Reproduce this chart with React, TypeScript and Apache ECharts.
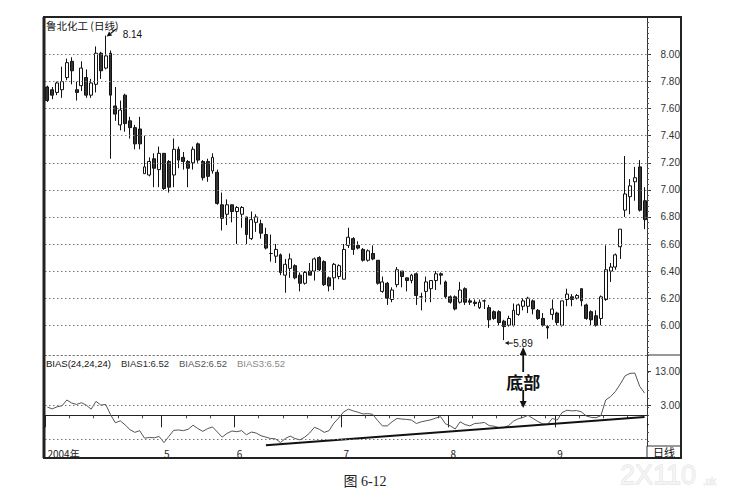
import React, { useEffect, useRef } from "react";
import * as echarts from "echarts";

// ---- data ----
const monthLabels = ["2004年", "5", "6", "7", "8", "9"];
const monthCounts = [24, 15, 22, 22, 22, 19];

const opens = [
  7.76, 7.74, 7.72, 7.74, 7.83, 7.95, 7.74, 7.77, 7.83, 7.70,
  7.78, 8.01, 7.90, 8.01, 7.62, 7.48, 7.70, 7.51, 7.46, 7.45,
  7.12, 7.11, 7.23, 7.15, 7.27, 7.21, 7.11, 7.30, 7.24, 7.21,
  7.20, 7.34, 7.21, 7.21, 7.14, 7.13, 6.89, 6.82, 6.89, 6.84,
  6.82, 6.80, 6.64, 6.76, 6.75, 6.67, 6.53, 6.51, 6.52, 6.37,
  6.42, 6.44, 6.37, 6.31, 6.40, 6.40, 6.50, 6.47, 6.35, 6.35,
  6.36, 6.34, 6.59, 6.64, 6.59, 6.56, 6.48, 6.53, 6.48, 6.25,
  6.31, 6.19, 6.30, 6.40, 6.35, 6.33, 6.38, 6.21, 6.25, 6.27,
  6.33, 6.38, 6.32, 6.21, 6.21, 6.17, 6.27, 6.18, 6.17, 6.13,
  6.18, 6.13, 6.10, 6.10, 6.03, 6.00, 6.00, 6.08, 6.14, 6.14,
  6.18, 6.11, 6.05, 5.99, 6.08, 6.09, 6.00, 6.19, 6.21, 6.20,
  6.27, 6.15, 6.10, 6.07, 6.05, 6.19, 6.40, 6.43, 6.58, 6.85,
  6.95, 7.06, 7.17, 6.92,
];
const closes = [
  7.66, 7.70, 7.79, 7.80, 7.94, 7.88, 7.72, 7.90, 7.70, 7.79,
  8.01, 7.88, 7.99, 7.70, 7.56, 7.59, 7.49, 7.46, 7.34, 7.34,
  7.17, 7.21, 7.16, 7.27, 7.01, 7.02, 7.30, 7.22, 7.21, 7.16,
  7.30, 7.22, 7.09, 7.10, 7.24, 6.90, 6.79, 6.89, 6.84, 6.87,
  6.87, 6.67, 6.78, 6.80, 6.68, 6.57, 6.53, 6.56, 6.39, 6.45,
  6.49, 6.35, 6.31, 6.39, 6.37, 6.49, 6.41, 6.30, 6.29, 6.45,
  6.44, 6.56, 6.65, 6.56, 6.57, 6.48, 6.55, 6.49, 6.31, 6.32,
  6.20, 6.26, 6.41, 6.36, 6.33, 6.37, 6.22, 6.21, 6.32, 6.33,
  6.38, 6.37, 6.21, 6.17, 6.12, 6.26, 6.17, 6.17, 6.16, 6.17,
  6.18, 6.04, 6.05, 6.02, 5.99, 6.05, 6.11, 6.15, 6.18, 6.20,
  6.12, 6.05, 6.00, 5.98, 6.12, 6.02, 6.18, 6.23, 6.19, 6.22,
  6.18, 6.05, 6.04, 6.00, 6.21, 6.41, 6.43, 6.52, 6.71, 6.97,
  7.03, 7.09, 6.85, 6.78,
];
const lows = [
  7.65, 7.67, 7.70, 7.68, 7.81, 7.78, 7.66, 7.73, 7.68, 7.68,
  7.72, 7.82, 7.89, 7.23, 7.51, 7.44, 7.43, 7.38, 7.30, 7.30,
  7.12, 7.10, 7.02, 7.02, 7.00, 6.98, 7.02, 7.16, 7.15, 7.02,
  7.15, 7.20, 7.07, 7.06, 7.12, 6.89, 6.70, 6.74, 6.76, 6.60,
  6.72, 6.60, 6.63, 6.69, 6.64, 6.56, 6.47, 6.46, 6.37, 6.24,
  6.35, 6.34, 6.25, 6.30, 6.37, 6.33, 6.40, 6.29, 6.25, 6.26,
  6.34, 6.34, 6.57, 6.52, 6.56, 6.47, 6.47, 6.48, 6.30, 6.24,
  6.15, 6.17, 6.28, 6.28, 6.25, 6.31, 6.15, 6.11, 6.17, 6.17,
  6.26, 6.30, 6.20, 6.16, 6.11, 6.16, 6.15, 6.15, 6.14, 6.12,
  6.12, 5.98, 6.04, 6.00, 5.89, 5.99, 5.99, 6.07, 6.11, 6.09,
  6.08, 6.04, 5.99, 5.90, 6.04, 6.00, 5.99, 6.14, 6.14, 6.19,
  6.14, 6.04, 6.00, 5.99, 6.00, 6.18, 6.32, 6.41, 6.49, 6.80,
  6.82, 6.92, 6.84, 6.71,
];
const highs = [
  7.77, 7.76, 7.80, 7.91, 7.97, 7.98, 7.80, 7.95, 7.89, 7.82,
  8.06, 8.02, 8.14, 8.03, 7.76, 7.66, 7.71, 7.54, 7.48, 7.54,
  7.40, 7.24, 7.27, 7.32, 7.27, 7.22, 7.38, 7.32, 7.28, 7.22,
  7.32, 7.35, 7.22, 7.23, 7.27, 7.15, 6.98, 6.93, 6.89, 6.88,
  6.88, 6.80, 6.84, 6.82, 6.78, 6.72, 6.67, 6.60, 6.53, 6.49,
  6.53, 6.45, 6.39, 6.40, 6.46, 6.50, 6.51, 6.48, 6.36, 6.46,
  6.45, 6.60, 6.72, 6.65, 6.62, 6.57, 6.56, 6.59, 6.48, 6.36,
  6.32, 6.28, 6.43, 6.40, 6.35, 6.38, 6.39, 6.24, 6.36, 6.33,
  6.40, 6.39, 6.33, 6.22, 6.22, 6.32, 6.28, 6.20, 6.19, 6.19,
  6.19, 6.15, 6.11, 6.11, 6.04, 6.07, 6.16, 6.16, 6.20, 6.21,
  6.19, 6.12, 6.09, 6.00, 6.19, 6.10, 6.18, 6.27, 6.23, 6.23,
  6.27, 6.16, 6.11, 6.11, 6.22, 6.59, 6.46, 6.53, 6.71, 7.25,
  7.08, 7.17, 7.22, 7.02,
];
const bias = [
  2.4, 1.9, 2.5, 2.8, 4.5, 3.6, 3.2, 3.7, 3.0, 1.8,
  4.1, 3.0, 3.2, 0.2, -2.2, -1.6, -2.8, -4.2, -5.0, -4.5,
  -6.7, -6.5, -6.6, -6.2, -8.0, -6.2, -4.4, -4.3, -4.5, -4.1,
  -2.9, -3.9, -4.7, -3.9, -3.4, -4.9, -6.4, -5.3, -4.6, -4.8,
  -4.5, -5.7, -4.9, -5.2, -6.0, -6.4, -6.8, -6.9, -8.0, -6.8,
  -6.1, -6.8, -7.2, -6.4, -5.2, -3.5, -4.1, -5.0, -4.5, -2.3,
  -0.8, 1.0, 1.8, 1.3, 0.9, 0.4, 0.5, 0.3, -1.5, -3.1,
  -3.1, -1.9, -0.9, -1.1, -1.2, -1.4, -2.4, -1.9, -1.6, -1.3,
  -0.8, -0.4, -2.5, -3.1, -4.0, -1.9, -2.7, -3.1, -2.4, -2.3,
  -2.1, -3.0, -3.2, -3.6, -3.6, -3.0, -1.7, -1.0, -0.6, 0.0,
  -0.9, -1.8, -2.5, -2.7, -0.9, -1.4, 0.8, 1.5, 1.3, 1.4,
  1.0, -0.2, -0.6, -0.7, -0.1, 4.5, 5.5, 7.0, 9.2, 11.6,
  12.3, 12.4, 8.5, 6.52,
];
// support trend line drawn under the BIAS curve: [candle index, BIAS value]
const biasTrend = [
  [45, -8.75],
  [123, -0.5],
];

const priceTicks = [6.0, 6.2, 6.4, 6.6, 6.8, 7.0, 7.2, 7.4, 7.6, 7.8, 8.0];
const priceMinorTicks = Array.from({ length: 62 }, (_, k) => +(5.8 + k * 0.04).toFixed(2));
const biasLabelTicks = [3, 13];
const biasGridLines = [-7, 3];
const biasMinorTicks = [-7.5, -5, -2.5, 0, 2.5, 5, 7.5, 10, 12.5, 15, 17.5];

const highNote = { index: 12, value: 8.14, text: "8.14" };
const lowNote = { index: 94, value: 5.89, text: "5.89" };
const bottomNote = { index: 98, text: "底部" };
const biasLegend = ["BIAS(24,24,24)", "BIAS1:6.52", "BIAS2:6.52", "BIAS3:6.52"];

// ---- derived ----
const monthStarts: number[] = [];
const categories: string[] = [];
const weekTicks: number[] = [];
monthCounts.forEach((n, m) => {
  monthStarts.push(categories.length);
  for (let k = 0; k < n; k++) {
    if (k > 0 && k % 5 === 0) weekTicks.push(categories.length);
    categories.push(`${monthLabels[m]}-${k + 1}`);
  }
});
const candleData = opens.map((o, i) => [o, closes[i], lows[i], highs[i]]);

const dotted = { color: "#777", type: [1.5, 2.5] as any, width: 1 };
const SANS = '"Liberation Sans", Arial, sans-serif';
const CJK = '"Noto Sans CJK SC", "Liberation Sans", sans-serif';

function arrow(x1: number, y1: number, x2: number, y2: number, len = 6, half = 3, w = 1.4, color = "#111") {
  const dx = x2 - x1, dy = y2 - y1;
  const L = Math.hypot(dx, dy) || 1;
  const ux = dx / L, uy = dy / L;
  const bx = x2 - ux * len, by = y2 - uy * len;
  return [
    { type: "line", z: 20, shape: { x1, y1, x2: bx, y2: by }, style: { stroke: color, lineWidth: w } },
    {
      type: "polygon", z: 20,
      shape: { points: [[x2, y2], [bx - uy * half, by + ux * half], [bx + uy * half, by - ux * half]] },
      style: { fill: color },
    },
  ];
}

export default function App() {
  const ref = useRef<HTMLDivElement>(null);
  useEffect(() => {
    if (!ref.current) return;
    const chart = echarts.init(ref.current, null, { renderer: "svg" });
    const option: any = {
      animation: false,
      backgroundColor: "#ffffff",
      textStyle: { fontFamily: SANS },
      grid: [
        { left: 45, top: 18, width: 602, height: 337 },
        { left: 45, top: 355, width: 602, height: 91 },
      ],
      xAxis: [
        {
          type: "category", gridIndex: 0, data: categories, position: "bottom",
          axisLine: { show: true, lineStyle: dotted },
          axisTick: { show: false }, axisLabel: { show: false }, splitLine: { show: false },
        },
        {
          type: "category", gridIndex: 1, data: categories, position: "bottom",
          axisLine: { show: true, lineStyle: { color: "#222", width: 1 } },
          axisTick: {
            show: true, interval: (i: number) => monthStarts.includes(i), length: 12,
            lineStyle: { color: "#222" },
          },
          axisLabel: {
            show: true, interval: (i: number) => monthStarts.includes(i),
            formatter: (_v: string, i: number) => monthLabels[monthStarts.indexOf(i)] ?? "",
            align: "left", margin: 2, color: "#222", fontSize: 10, fontFamily: CJK,
          },
          splitLine: { show: false },
        },
        {
          type: "category", gridIndex: 1, data: categories, position: "bottom",
          axisLine: { show: false },
          axisTick: { show: true, interval: (i: number) => weekTicks.includes(i), length: 3, lineStyle: { color: "#444" } },
          axisLabel: { show: false }, splitLine: { show: false },
        },
      ],
      yAxis: [
        {
          type: "value", gridIndex: 0, position: "right", min: 5.78, max: 8.27,
          axisLine: { show: true, lineStyle: { color: "#333" } },
          axisTick: { show: true, customValues: priceTicks, length: 4, lineStyle: { color: "#333" } },
          axisLabel: {
            customValues: priceTicks, formatter: (v: number) => v.toFixed(2),
            align: "right", margin: 33, color: "#333", fontSize: 10,
          },
          splitLine: { show: false },
        },
        {
          type: "value", gridIndex: 0, position: "right", min: 5.78, max: 8.27,
          axisLine: { show: false },
          axisTick: { show: true, customValues: priceMinorTicks, length: 2, lineStyle: { color: "#555" } },
          axisLabel: { show: false }, splitLine: { show: false },
        },
        {
          type: "value", gridIndex: 1, position: "right", min: -9, max: 17.7,
          axisLine: { show: true, lineStyle: { color: "#333" } },
          axisTick: { show: true, customValues: biasLabelTicks, length: 4, lineStyle: { color: "#333" } },
          axisLabel: {
            customValues: biasLabelTicks, formatter: (v: number) => v.toFixed(2),
            align: "right", margin: 33, color: "#333", fontSize: 10,
          },
          splitLine: { show: false },
        },
        {
          type: "value", gridIndex: 1, position: "right", min: -9, max: 17.7,
          axisLine: { show: false },
          axisTick: { show: true, customValues: biasMinorTicks, length: 2, lineStyle: { color: "#555" } },
          axisLabel: { show: false }, splitLine: { show: false },
        },
      ],
      series: [
        {
          type: "candlestick", xAxisIndex: 0, yAxisIndex: 0, data: candleData, barWidth: 3.4,
          itemStyle: { color: "#ffffff", color0: "#333333", borderColor: "#111111", borderColor0: "#111111", borderWidth: 1 },
          markLine: {
            silent: true, symbol: ["none", "none"], label: { show: false }, lineStyle: dotted,
            data: priceTicks.map((v) => ({ yAxis: v })),
          },
        },
        {
          type: "line", xAxisIndex: 1, yAxisIndex: 2, data: bias, showSymbol: false,
          lineStyle: { color: "#555", width: 1 },
          markLine: {
            silent: true, symbol: ["none", "none"], label: { show: false }, lineStyle: dotted,
            data: biasGridLines.map((v) => ({ yAxis: v })),
          },
        },
        {
          type: "line", xAxisIndex: 1, yAxisIndex: 2, data: biasTrend, showSymbol: false,
          lineStyle: { color: "#111", width: 2 },
        },
      ],
    };
    chart.setOption(option);

    const hp = chart.convertToPixel({ xAxisIndex: 0, yAxisIndex: 0 }, [highNote.index, highNote.value]) as number[];
    const lp = chart.convertToPixel({ xAxisIndex: 0, yAxisIndex: 0 }, [lowNote.index, lowNote.value]) as number[];
    const bp = chart.convertToPixel({ xAxisIndex: 0, yAxisIndex: 0 }, [bottomNote.index, 6]) as number[];
    const bx = bp[0];

    const legendColors = ["#111", "#2a2a2a", "#555", "#888"];
    const legendX = [46, 121, 179, 237];

    const graphic: any[] = [
      {
        type: "rect", z: 30, shape: { x: 44, y: 17, width: 637, height: 441 },
        style: { fill: "none", stroke: "#222", lineWidth: 2 },
      },
      { type: "line", z: 30, shape: { x1: 44, y1: 17, x2: 44, y2: 458 }, style: { stroke: "#222", lineWidth: 3 } },
      { type: "line", z: 25, shape: { x1: 647, y1: 355, x2: 681, y2: 355 }, style: { stroke: "#333", lineWidth: 1 } },
      { type: "line", z: 25, shape: { x1: 647, y1: 446, x2: 681, y2: 446 }, style: { stroke: "#333", lineWidth: 1 } },
      { type: "line", z: 25, shape: { x1: 647, y1: 446, x2: 647, y2: 458 }, style: { stroke: "#333", lineWidth: 1 } },
      {
        type: "text", z: 25, x: 46, y: 25,
        style: { text: "鲁北化工 (日线)", fill: "#111", font: `10.5px ${CJK}`, verticalAlign: "middle" },
      },
      ...biasLegend.map((t, i) => ({
        type: "text", z: 25, x: legendX[i], y: 363,
        style: { text: t, fill: legendColors[i], font: `9.5px ${SANS}`, verticalAlign: "middle" },
      })),
      {
        type: "text", z: 25, x: 664, y: 452,
        style: { text: "日线", fill: "#111", font: `11px ${CJK}`, align: "center", verticalAlign: "middle" },
      },
      // 8.14 note
      ...arrow(hp[0] + 11, hp[1] - 7, hp[0] + 1, hp[1] + 1, 5, 2.5, 1.2),
      {
        type: "text", z: 25, x: hp[0] + 17, y: hp[1] - 1,
        style: { text: highNote.text, fill: "#111", font: `10px ${SANS}`, verticalAlign: "middle" },
      },
      // 5.89 note
      ...arrow(lp[0] + 9, lp[1] + 3, lp[0] + 1, lp[1] + 3, 4, 2, 1),
      {
        type: "text", z: 25, x: lp[0] + 9.5, y: lp[1] + 3,
        style: { text: lowNote.text, fill: "#111", font: `10px ${SANS}`, verticalAlign: "middle" },
      },
      // 底部 note
      ...arrow(bx, 372, bx, 347, 8, 3.5, 1.8),
      {
        type: "text", z: 25, x: bx, y: 381.5,
        style: { text: bottomNote.text, fill: "#111", font: `bold 17px ${CJK}`, align: "center", verticalAlign: "middle" },
      },
      ...arrow(bx, 390, bx, 408, 7, 3.5, 1.8),
      // caption
      {
        type: "text", z: 25, x: 365, y: 481,
        style: { text: "图 6-12", fill: "#222", font: `14px "Liberation Serif", "Noto Sans CJK SC", serif`, align: "center", verticalAlign: "middle" },
      },
      // watermark
      {
        type: "text", z: 1, x: 620, y: 475,
        style: { text: "2X110", fill: "#f4f4f4", stroke: "#dddddd", lineWidth: 0.8, font: `27px ${SANS}`, verticalAlign: "middle" },
      },
      {
        type: "text", z: 1, x: 703, y: 481,
        style: { text: ".uk", fill: "#f4f4f4", stroke: "#dddddd", lineWidth: 0.6, font: `10px ${SANS}`, verticalAlign: "middle" },
      },
    ];
    chart.setOption({ graphic });
    return () => chart.dispose();
  }, []);
  return (
    <div
      ref={ref}
      style={{ position: "fixed", left: 0, top: 0, width: 744, height: 492, background: "#fff" }}
    />
  );
}
